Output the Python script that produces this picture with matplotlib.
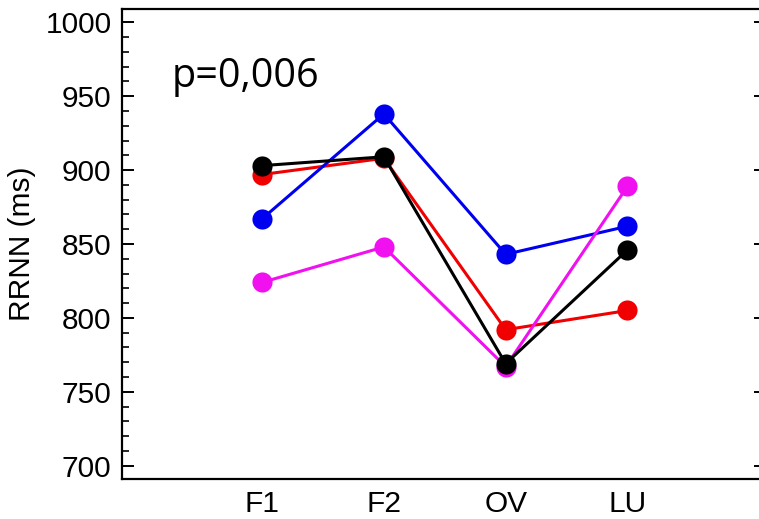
import matplotlib
matplotlib.use("Agg")
import matplotlib.pyplot as plt
from matplotlib.ticker import MultipleLocator

plt.rcParams['font.family'] = ['Liberation Sans', 'DejaVu Sans']

# data
categories = ['F1', 'F2', 'OV', 'LU']
red = [897, 908, 792, 805]
blue = [867, 938, 843, 862]
magenta = [824, 848, 767, 889]
black = [903, 909, 769, 846]

series = [(red, '#f00000'), (blue, '#0000f0'), (magenta, '#f010f0'), (black, 'black')]

fig = plt.figure(figsize=(7.59, 5.19), dpi=100)
# the right edge of the box sits just outside the picture, as in the reference
ax = fig.add_axes([0.1607, 0.0771, 0.849, 0.9056])

x = list(range(len(categories)))
for vals, col in series:
    ax.plot(x, vals, '-o', color=col, lw=2.2, markersize=14.5, markeredgewidth=0)

ax.set_xlim(-1.15, 4.14)
ax.set_ylim(691, 1009)
ax.yaxis.set_major_locator(MultipleLocator(50))
ax.yaxis.set_minor_locator(MultipleLocator(10))
ax.set_xticks(x)
ax.set_xticklabels(categories)

ax.tick_params(axis='y', which='major', direction='in', length=8.5, width=1.4,
               labelsize=21.5, pad=7.5, right=True)
ax.tick_params(axis='y', which='minor', direction='in', length=5, width=1.2, right=False)
ax.tick_params(axis='x', length=0, labelsize=21.5, pad=8)

for s in ax.spines.values():
    s.set_linewidth(1.6)
ax.spines['right'].set_visible(False)

ax.set_ylabel('RRNN (ms)', fontsize=21.5, labelpad=7)
ax.text(0.077, 0.833, 'p=0,006', transform=ax.transAxes, fontsize=28.5,
        family=['Open Sans', 'DejaVu Sans'], va='baseline')

fig.savefig('out.png', dpi=100)
